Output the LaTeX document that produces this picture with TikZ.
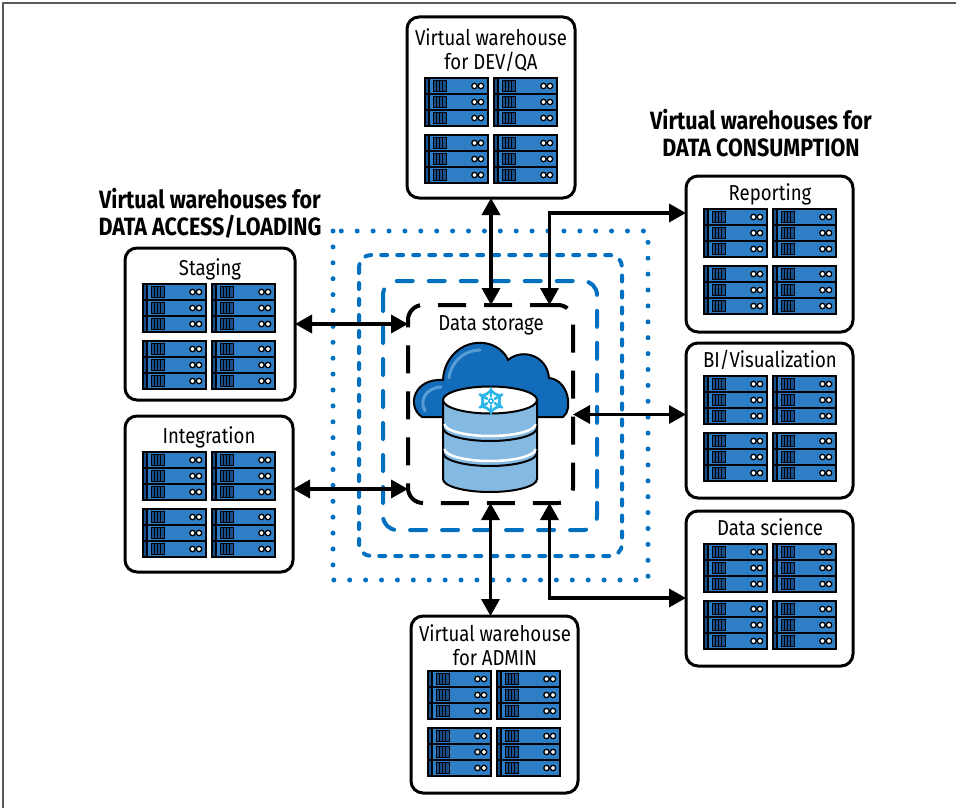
\documentclass[tikz,border=0pt]{standalone}
\usepackage{fontspec}
\setmainfont{Fira Sans}[FakeStretch=0.86]
\usetikzlibrary{arrows.meta,calc}

\definecolor{srvblue}{RGB}{46,126,198}
\definecolor{srvdark}{RGB}{22,78,138}
\definecolor{zoneblue}{RGB}{0,112,192}
\definecolor{cloudblue}{RGB}{18,108,186}
\definecolor{cloudhi}{RGB}{86,156,214}
\definecolor{dblight}{RGB}{132,186,226}
\definecolor{snowblue}{RGB}{41,181,232}
\definecolor{framegray}{RGB}{90,90,90}

\tikzset{
  whbox/.style={draw, line width=3pt, rounded corners=12pt, fill=white,
    inner sep=0pt, outer sep=0pt},
  ttl/.style={font=\fontsize{21.6}{24}\selectfont, inner sep=0pt, align=center, anchor=base},
  hdr/.style={font=\bfseries\fontsize{25}{27}\selectfont, inner sep=0pt, align=center, anchor=base},
  arr/.style={line width=3.5pt,
    {Triangle[length=17pt,width=18pt]}-{Triangle[length=17pt,width=18pt]}},
  % one server unit, top-left corner at the pic origin
  unit/.pic={
    \draw[fill=srvblue, line width=1.2pt] (0,0) rectangle (63,16);
    \draw[fill=srvdark, line width=1.2pt] (0,0) rectangle (4,16);
    \draw[fill=srvdark, line width=1pt] (8,2.5) rectangle (21,13.5);
    \draw[line width=1pt] (11.5,2.5) -- (11.5,13.5) (14.5,2.5) -- (14.5,13.5)
      (17.5,2.5) -- (17.5,13.5);
    \draw[fill=white, line width=1.3pt] (49.5,8) circle (2.7pt) (56,8) circle (2.7pt);
  },
  rack/.pic={
    \pic at (0,0) {unit}; \pic at (0,16) {unit}; \pic at (0,32) {unit};
  },
  cluster/.pic={
    \pic at (0,0) {rack}; \pic at (69,0) {rack};
    \pic at (0,57) {rack}; \pic at (69,57) {rack};
  },
}

\begin{document}
\begin{tikzpicture}[x=1pt,y=-1pt]
\useasboundingbox (0,0) rectangle (956,808);

% page frame (left and top edges)
\draw[framegray, line width=2pt] (3,808) -- (3,3) -- (956,3);

% nested blue zones around the storage layer
\draw[zoneblue, line width=5pt, line cap=round, dash pattern=on 0pt off 15.9pt]
  (333,231) rectangle (648,580);
\draw[zoneblue, line width=4pt, line cap=round, rounded corners=12pt,
  dash pattern=on 6pt off 10pt] (359,255) rectangle (622,556);
\draw[zoneblue, line width=4pt, line cap=round, rounded corners=14pt,
  dash pattern=on 16pt off 16pt] (383,281) rectangle (597,530);

% storage layer
\node[draw, line width=4pt, dash pattern=on 28pt off 18pt, rounded corners=15pt,
  minimum width=165pt, minimum height=198pt, inner sep=0pt, outer sep=0pt]
  (store) at (490.5,404) {};
\node[ttl] (storettl) at (491,330) {Data storage};

% cloud
\draw[fill=cloudblue, line width=2pt]
  (422,417) .. controls (406,406) and (414,378) .. (443,380)
  .. controls (444,355) and (466,338) .. (489,344)
  .. controls (499,347) and (505,353) .. (508,360)
  .. controls (522,348) and (547,355) .. (549,378)
  .. controls (569,380) and (573,410) .. (563,417) -- cycle;
\draw[cloudhi, line width=3pt, line cap=round]
  (425,411) .. controls (419,400) and (426,388) .. (441,387);
\draw[cloudhi, line width=3pt, line cap=round]
  (449,378) .. controls (451,361) and (465,350) .. (480,350);

% database cylinder
\foreach \yt/\yb in {453/479, 428/453, 400/428}{
  \draw[fill=dblight, line width=2pt] (443,\yt) -- (443,\yb)
    arc[start angle=180, end angle=0, x radius=47, y radius=13] -- (537,\yt) -- cycle;
}
\foreach \yb in {428,453}{
  \draw[white, line width=2.5pt] (444.5,\yb-4)
    arc[start angle=180, end angle=0, x radius=45.5, y radius=12];
}
\draw[fill=white, line width=2pt] (490,400) ellipse [x radius=47, y radius=13.5];

% snowflake mark
\begin{scope}[shift={(491,401)}]
  \foreach \d in {30,90,150,210,270,330}{
    \begin{scope}[rotate=\d]
      \draw[snowblue, line width=2.6pt, line cap=round] (4.5,0) -- (13,0);
      \draw[snowblue, line width=2.6pt, line cap=round, line join=round]
        (7,-4.2) -- (10.5,0) -- (7,4.2);
    \end{scope}
  }
  \draw[snowblue, line width=1.6pt] (0,0) circle (2.2pt);
\end{scope}

% warehouse boxes
\node[whbox, minimum width=168pt, minimum height=181pt] (dev) at (491,107.5) {};
\node[whbox, minimum width=170pt, minimum height=152pt] (stg) at (210,324) {};
\node[whbox, minimum width=168pt, minimum height=156pt] (integ) at (209,494) {};
\node[whbox, minimum width=167pt, minimum height=156pt] (rep) at (769.5,254) {};
\node[whbox, minimum width=167pt, minimum height=155pt] (bi) at (769.5,420.5) {};
\node[whbox, minimum width=167pt, minimum height=155pt] (dsci) at (769.5,588.5) {};
\node[whbox, minimum width=167pt, minimum height=177pt] (adm) at (494.5,704.5) {};

% box titles (base anchor sits on the last line)
\node[ttl] (devttl) at (491,69.5) {Virtual warehouse\\for DEV/QA};
\node[ttl] (stgttl) at (210,275.5) {Staging};
\node[ttl] (integttl) at (209,443.5) {Integration};
\node[ttl] (repttl) at (770,200.5) {Reporting};
\node[ttl] (bittl) at (770,367.5) {BI/Visualization};
\node[ttl] (dscittl) at (770,535.5) {Data science};
\node[ttl] (admttl) at (495,665.5) {Virtual warehouse\\for ADMIN};

% server clusters
\pic at (425,78) {cluster};
\pic at (143,284) {cluster};
\pic at (143,452) {cluster};
\pic at (704,209) {cluster};
\pic at (704,376) {cluster};
\pic at (704,544) {cluster};
\pic at (428,671) {cluster};

% group headings
\node[hdr] (hleft) at (210,235.5) {Virtual warehouses for\\DATA ACCESS/LOADING};
\node[hdr] (hright) at (761,156.5) {Virtual warehouses for\\DATA CONSUMPTION};

% connector end points on the side boxes
\coordinate (integend) at ($(integ.east)+(0,-5)$);
\coordinate (biend) at ($(bi.west)+(0,-6)$);
\coordinate (repend) at ($(rep.west)+(0,-41)$);
\coordinate (dsciend) at ($(dsci.west)+(0,9.5)$);
\coordinate (storetop) at ($(store.north)+(59,0)$);
\coordinate (storebot) at ($(store.south)+(59,0)$);

% connectors
\draw[arr] (dev.south) -- (dev.south |- store.north);
\draw[arr] (store.south) -- (store.south |- adm.north);
\draw[arr] (stg.east) -- (stg.east -| store.west);
\draw[arr] (integend) -- (integend -| store.west);
\draw[arr] (biend -| store.east) -- (biend);
\draw[arr] (storetop) |- (repend);
\draw[arr] (storebot) |- (dsciend);
\end{tikzpicture}
\end{document}
